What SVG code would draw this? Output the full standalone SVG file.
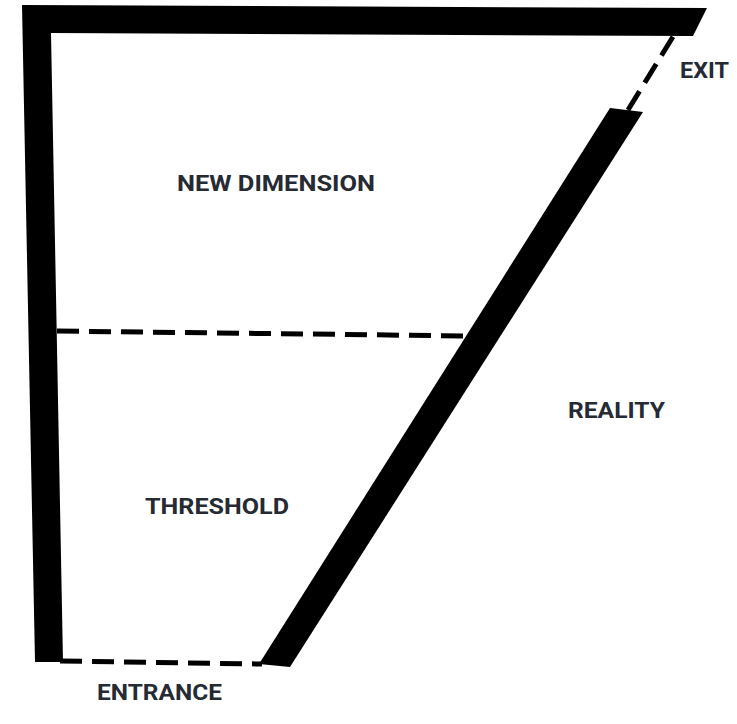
<svg xmlns="http://www.w3.org/2000/svg" width="737" height="724" viewBox="0 0 737 724">
<style>
.wall{fill:#000}
.dash{stroke:#000;stroke-width:5;fill:none;stroke-dasharray:22 10}
.lbl{font-family:Roboto,"Liberation Sans",sans-serif;font-weight:bold;font-size:22.5px;fill:#262a33}
</style>
<rect width="737" height="724" fill="#fff"/>
<g id="walls">
<polygon class="wall" points="22,5 707,8 693,36 51,33 63,662 35,662"/>
<polygon class="wall" points="610,108 643,112 290,667 259,664"/>
</g>
<g id="connectors">
<line class="dash" x1="57" y1="331" x2="470" y2="336"/>
<line class="dash" x1="60" y1="661" x2="262" y2="664" stroke-dashoffset="0"/>
<line class="dash" x1="628" y1="110" x2="674" y2="35"/>
</g>
<g id="new-dimension"><text class="lbl" x="177" y="191" textLength="198" lengthAdjust="spacingAndGlyphs">NEW DIMENSION</text></g>
<g id="threshold"><text class="lbl" x="145" y="514" textLength="144" lengthAdjust="spacingAndGlyphs">THRESHOLD</text></g>
<g id="reality"><text class="lbl" x="568" y="418" textLength="97" lengthAdjust="spacingAndGlyphs">REALITY</text></g>
<g id="exit"><text class="lbl" x="680" y="78" textLength="49" lengthAdjust="spacingAndGlyphs">EXIT</text></g>
<g id="entrance"><text class="lbl" x="97" y="700" textLength="125" lengthAdjust="spacingAndGlyphs">ENTRANCE</text></g>
</svg>
